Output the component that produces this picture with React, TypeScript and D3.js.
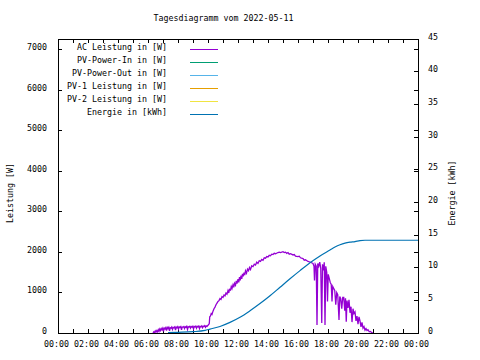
import React from "react";
import * as d3 from "d3";

const title = "Tagesdiagramm vom 2022-05-11";
const yLabel = "Leistung [W]";
const y2Label = "Energie [kWh]";

const xTickHours = [0, 2, 4, 6, 8, 10, 12, 14, 16, 18, 20, 22, 24];
const xTickLabels = ["00:00", "02:00", "04:00", "06:00", "08:00", "10:00", "12:00", "14:00", "16:00", "18:00", "20:00", "22:00", "00:00"];
const xMinorHours = d3.range(0, 25);
const yTicks = [0, 1000, 2000, 3000, 4000, 5000, 6000, 7000];
const y2Ticks = [0, 5, 10, 15, 20, 25, 30, 35, 40, 45];

const legendLabels = [
  "AC Leistung in [W]",
  "PV-Power-In in [W]",
  "PV-Power-Out in [W]",
  "PV-1 Leistung in [W]",
  "PV-2 Leistung in [W]",
  "Energie in [kWh]",
];
const legendColors = ["#9400d3", "#009e73", "#56b4e9", "#e69f00", "#f0e442", "#0072b2"];

// AC Leistung (W)
const acTime = [
  "06:20", "06:23", "06:26", "06:29", "06:32", "06:35", "06:38", "06:41", "06:44", "06:47",
  "06:50", "06:53", "06:56", "06:59", "07:02", "07:05", "07:08", "07:11", "07:14", "07:17",
  "07:20", "07:23", "07:26", "07:29", "07:32", "07:35", "07:38", "07:41", "07:44", "07:47",
  "07:50", "07:53", "07:56", "07:59", "08:02", "08:05", "08:08", "08:11", "08:14", "08:17",
  "08:20", "08:23", "08:26", "08:29", "08:32", "08:35", "08:38", "08:41", "08:44", "08:47",
  "08:50", "08:53", "08:56", "08:59", "09:02", "09:05", "09:08", "09:11", "09:14", "09:17",
  "09:20", "09:23", "09:26", "09:29", "09:32", "09:35", "09:38", "09:41", "09:44", "09:47",
  "09:50", "09:53", "09:56", "10:00", "10:05", "10:07", "10:10", "10:13", "10:16", "10:20",
  "10:24", "10:28", "10:32", "10:36", "10:40", "10:44", "10:48", "10:52", "10:56", "11:00",
  "11:04", "11:08", "11:12", "11:16", "11:20", "11:23", "11:26", "11:30", "11:33", "11:36",
  "11:40", "11:43", "11:46", "11:50", "11:53", "11:56", "12:00", "12:03", "12:06", "12:09",
  "12:12", "12:15", "12:18", "12:21", "12:24", "12:27", "12:30", "12:34", "12:38", "12:42",
  "12:46", "12:50", "12:55", "13:00", "13:05", "13:10", "13:15", "13:20", "13:25", "13:30",
  "13:35", "13:40", "13:45", "13:50", "13:55", "14:00", "14:05", "14:10", "14:15", "14:20",
  "14:25", "14:30", "14:40", "14:45", "14:50", "15:00", "15:05", "15:10", "15:15", "15:20",
  "15:25", "15:30", "15:40", "15:45", "15:50", "16:00", "16:05", "16:10", "16:20", "16:25",
  "16:30", "16:40", "16:50", "17:00", "17:04", "17:06", "17:09", "17:13", "17:16", "17:19",
  "17:23", "17:27", "17:31", "17:35", "17:38", "17:42", "17:45", "17:48", "17:51", "17:55",
  "17:58", "18:01", "18:05", "18:09", "18:13", "18:16", "18:19", "18:23", "18:27", "18:31",
  "18:35", "18:39", "18:44", "18:47", "18:51", "18:55", "18:59", "19:03", "19:07", "19:10",
  "19:13", "19:16", "19:20", "19:24", "19:28", "19:32", "19:36", "19:40", "19:44", "19:48",
  "19:52", "19:56", "20:00", "20:04", "20:08", "20:12", "20:16", "20:20", "20:24", "20:28",
  "20:32", "20:36", "20:40", "20:45", "20:50", "20:55", "21:00",
];
const acPower = [
  0, 30, 10, 50, 20, 60, 30, 80, 40, 100,
  60, 110, 80, 120, 40, 120, 100, 130, 60, 140,
  110, 140, 50, 130, 120, 150, 90, 140, 130, 150,
  70, 145, 130, 155, 100, 150, 140, 160, 80, 150,
  145, 160, 110, 155, 140, 165, 90, 155, 150, 165,
  120, 160, 145, 165, 100, 160, 150, 170, 120, 165,
  150, 170, 110, 165, 155, 175, 130, 170, 160, 180,
  140, 175, 165, 190, 230, 400, 420, 480, 460, 540,
  600, 640, 700, 740, 780, 800, 850, 830, 900, 880,
  940, 920, 990, 960, 1050, 990, 1080, 1060, 1150, 1100,
  1190, 1130, 1230, 1180, 1290, 1220, 1330, 1250, 1380, 1300,
  1420, 1340, 1460, 1400, 1490, 1430, 1540, 1480, 1580, 1540,
  1620, 1570, 1660, 1640, 1700, 1680, 1750, 1720, 1790, 1770,
  1820, 1800, 1860, 1850, 1890, 1880, 1920, 1910, 1950, 1940,
  1970, 1960, 1990, 2000, 1990, 2010, 1990, 2000, 1970, 1990,
  1950, 1960, 1930, 1940, 1900, 1890, 1900, 1860, 1840, 1800,
  1810, 1770, 1750, 1720, 1650, 1300, 1700, 1650, 200, 1720,
  1650, 1750, 1600, 250, 1700, 1550, 1750, 200, 1650, 1500,
  780, 1450, 1350, 1250, 1200, 780, 1150, 1100, 1050, 700,
  1000, 950, 320, 900, 850, 600, 880, 880, 550, 860,
  280, 800, 620, 820, 500, 650, 270, 600, 480, 520,
  300, 420, 220, 400, 300, 150, 260, 120, 160, 70,
  110, 60, 80, 30, 40, 10, 0,
];

// Energie (kWh)
const energyTime = [
  "07:20", "08:00", "09:00", "09:48", "10:08", "10:48", "11:28", "12:08", "12:48", "13:28",
  "14:08", "14:48", "15:28", "16:08", "16:48", "17:28", "18:08", "18:28", "18:48", "19:08",
  "19:28", "19:48", "20:08", "20:28", "24:00",
];
const energyKWh = [
  0.05, 0.1, 0.2, 0.4, 0.6, 1.0, 1.62, 2.4, 3.4, 4.5,
  5.7, 7.0, 8.3, 9.55, 10.75, 11.8, 12.7, 13.15, 13.5, 13.75,
  13.9, 14.0, 14.15, 14.2, 14.2,
];

const toHours = (s: string) => {
  const [h, m] = s.split(":").map(Number);
  return h + m / 60;
};

const W = 480;
const H = 360;
const L = 58;
const R = 418;
const T = 39;
const B = 333;
const FONT = "'DejaVu Sans Mono', 'Liberation Mono', monospace";

export default function App() {
  const x = d3.scaleLinear().domain([0, 24]).range([L, R]);
  const y = d3.scaleLinear().domain([0, 7270]).range([B, T]);
  const y2 = d3.scaleLinear().domain([0, 45]).range([B, T]);

  const acData = acTime.map((t, i) => [toHours(t), acPower[i]] as [number, number]);
  const enData = energyTime.map((t, i) => [toHours(t), energyKWh[i]] as [number, number]);

  const acLine = d3.line<[number, number]>().x((d) => x(d[0])).y((d) => y(d[1]))(acData) || "";
  const enLine = d3.line<[number, number]>().curve(d3.curveMonotoneX).x((d) => x(d[0])).y((d) => y2(d[1]))(enData) || "";

  const tick = 4;
  const fs = 8.3;

  return (
    <svg
      width={W}
      height={H}
      style={{ position: "absolute", left: 0, top: 0, background: "#fff", display: "block" }}
      fontFamily={FONT}
      fontSize={fs}
    >
      <rect x={0} y={0} width={W} height={H} fill="#fff" />
      <text x={223.5} y={21} textAnchor="middle" fill="#000">{title}</text>

      {/* ticks */}
      <g stroke="#000" strokeWidth={1} shapeRendering="crispEdges">
        {xMinorHours.map((h) => (
          <g key={"xt" + h}>
            <line x1={x(h)} x2={x(h)} y1={B} y2={B - tick} />
            <line x1={x(h)} x2={x(h)} y1={T} y2={T + tick} />
          </g>
        ))}
        {yTicks.map((v) => (
          <g key={"yt" + v}>
            <line x1={L} x2={L + tick} y1={y(v)} y2={y(v)} />
            <line x1={R} x2={R - tick} y1={y(v)} y2={y(v)} />
          </g>
        ))}
        {y2Ticks.map((v) => (
          <line key={"y2t" + v} x1={R} x2={R - tick} y1={y2(v)} y2={y2(v)} />
        ))}
      </g>

      {/* tick labels */}
      <g fill="#000">
        {xTickHours.map((h, i) => (
          <text key={"xl" + i} x={x(h) - 1.5} y={347} textAnchor="middle">{xTickLabels[i]}</text>
        ))}
        {yTicks.map((v) => (
          <text key={"yl" + v} x={47} y={y(v) + 0.5} textAnchor="end">{String(v)}</text>
        ))}
        {y2Ticks.map((v) => (
          <text key={"y2l" + v} x={428} y={y2(v) + 0.5} textAnchor="start">{String(v)}</text>
        ))}
      </g>

      {/* axis titles */}
      <text transform="translate(12.5,193) rotate(-90)" textAnchor="middle" fill="#000">{yLabel}</text>
      <text transform="translate(455,193) rotate(-90)" textAnchor="middle" fill="#000">{y2Label}</text>

      {/* data */}
      <path d={acLine} fill="none" stroke={legendColors[0]} strokeWidth={1.3} strokeLinejoin="miter" />
      <path d={enLine} fill="none" stroke={legendColors[5]} strokeWidth={1.2} />

      {/* legend */}
      <g>
        {legendLabels.map((lab, i) => (
          <g key={"lg" + i}>
            <text x={167} y={50 + 13 * i} textAnchor="end" fill="#000">{lab}</text>
            <line x1={190} x2={218} y1={49 + 13 * i} y2={49 + 13 * i} stroke={legendColors[i]} strokeWidth={1} shapeRendering="crispEdges" />
          </g>
        ))}
      </g>

      {/* border */}
      <rect x={L} y={T} width={R - L} height={B - T} fill="none" stroke="#000" strokeWidth={1} shapeRendering="crispEdges" />
    </svg>
  );
}
